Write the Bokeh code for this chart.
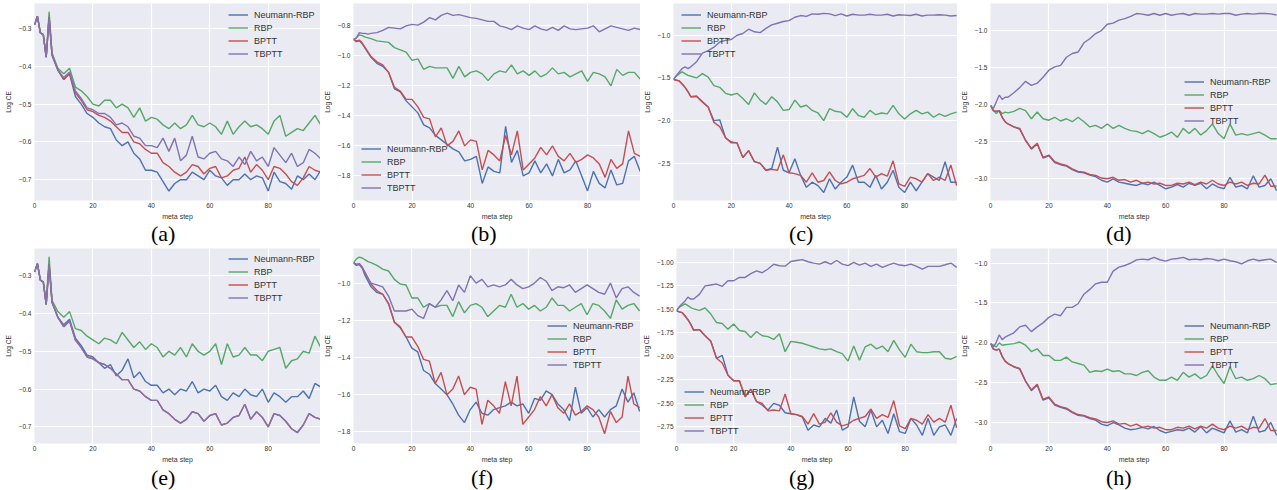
from bokeh.plotting import figure
from bokeh.models import Range1d, FixedTicker, CustomJSTickFormatter, Legend, LegendItem, Div
from bokeh.layouts import column, row
from bokeh.embed import file_html
from bokeh.resources import INLINE

STEPS = [0, 1, 2, 3, 4, 5, 6] + list(range(8, 100, 2))
NAMES = ["Neumann-RBP", "RBP", "BPTT", "TBPTT"]
COLORS = ["#4C72B0", "#55A868", "#C44E52", "#8172B2"]
XTICKS = [0, 20, 40, 60, 80]

# ---------- panel (a) / (e) ----------
N_a = [-0.29, -0.268, -0.312, -0.316, -0.376, -0.27, -0.37,
       -0.41, -0.435, -0.42, -0.48, -0.50, -0.525, -0.535, -0.55, -0.56, -0.565,
       -0.595, -0.61, -0.60, -0.63, -0.645, -0.675, -0.675, -0.68, -0.705, -0.73,
       -0.71, -0.70, -0.70, -0.68, -0.69, -0.70, -0.675, -0.69, -0.695, -0.715,
       -0.70, -0.70, -0.685, -0.70, -0.69, -0.695, -0.73, -0.68, -0.705, -0.71,
       -0.725, -0.69, -0.70, -0.685, -0.70, -0.675]
R_a = [-0.29, -0.268, -0.312, -0.316, -0.376, -0.256, -0.365,
       -0.405, -0.42, -0.405, -0.455, -0.465, -0.48, -0.50, -0.505, -0.49, -0.49,
       -0.51, -0.50, -0.51, -0.535, -0.51, -0.545, -0.535, -0.54, -0.555, -0.565,
       -0.55, -0.565, -0.555, -0.53, -0.555, -0.56, -0.55, -0.56, -0.58, -0.545,
       -0.58, -0.56, -0.545, -0.56, -0.555, -0.565, -0.58, -0.545, -0.53, -0.585,
       -0.575, -0.565, -0.57, -0.55, -0.53, -0.555]
B_a = [-0.29, -0.268, -0.312, -0.316, -0.376, -0.27, -0.37,
       -0.41, -0.435, -0.42, -0.47, -0.49, -0.515, -0.52, -0.53, -0.535, -0.545,
       -0.56, -0.575, -0.575, -0.60, -0.605, -0.62, -0.63, -0.63, -0.655, -0.665,
       -0.68, -0.69, -0.68, -0.66, -0.665, -0.685, -0.67, -0.665, -0.695, -0.69,
       -0.675, -0.67, -0.64, -0.68, -0.66, -0.675, -0.70, -0.665, -0.67, -0.685,
       -0.705, -0.715, -0.695, -0.665, -0.675, -0.68]
T_a = [-0.29, -0.268, -0.312, -0.316, -0.376, -0.27, -0.37,
       -0.41, -0.43, -0.415, -0.465, -0.485, -0.51, -0.515, -0.525, -0.525, -0.535,
       -0.555, -0.55, -0.56, -0.585, -0.59, -0.61, -0.61, -0.615, -0.59, -0.625,
       -0.59, -0.65, -0.635, -0.585, -0.64, -0.645, -0.63, -0.625, -0.645, -0.65,
       -0.665, -0.64, -0.66, -0.625, -0.65, -0.64, -0.665, -0.615, -0.635, -0.655,
       -0.63, -0.665, -0.655, -0.62, -0.63, -0.645]
N_e = [-0.29, -0.268, -0.312, -0.316, -0.376, -0.27, -0.37,
       -0.41, -0.43, -0.415, -0.465, -0.485, -0.51, -0.515, -0.53, -0.545, -0.535,
       -0.565, -0.55, -0.52, -0.57, -0.555, -0.58, -0.59, -0.59, -0.61, -0.60,
       -0.615, -0.60, -0.605, -0.58, -0.61, -0.60, -0.605, -0.59, -0.62, -0.63,
       -0.61, -0.62, -0.60, -0.615, -0.62, -0.60, -0.635, -0.61, -0.62, -0.635,
       -0.62, -0.62, -0.605, -0.625, -0.585, -0.595]
R_e = [-0.29, -0.268, -0.312, -0.316, -0.376, -0.25, -0.365,
       -0.395, -0.41, -0.395, -0.44, -0.445, -0.46, -0.47, -0.48, -0.465, -0.47,
       -0.48, -0.45, -0.47, -0.49, -0.475, -0.495, -0.48, -0.49, -0.515, -0.50,
       -0.51, -0.49, -0.515, -0.48, -0.50, -0.51, -0.50, -0.48, -0.535, -0.48,
       -0.515, -0.51, -0.49, -0.51, -0.51, -0.525, -0.50, -0.495, -0.49, -0.545,
       -0.525, -0.52, -0.50, -0.505, -0.46, -0.49]

# ---------- panel (b) / (f) ----------
N_b = [-0.89, -0.905, -0.90, -0.92, -0.95, -0.98, -1.01,
       -1.05, -1.07, -1.11, -1.22, -1.24, -1.30, -1.34, -1.38, -1.46, -1.48,
       -1.53, -1.56, -1.59, -1.62, -1.64, -1.70, -1.69, -1.67, -1.85, -1.74,
       -1.77, -1.78, -1.47, -1.71, -1.63, -1.80, -1.78, -1.70, -1.78, -1.72,
       -1.80, -1.69, -1.78, -1.76, -1.70, -1.80, -1.90, -1.77, -1.85, -1.88,
       -1.76, -1.86, -1.85, -1.70, -1.67, -1.77]
R_b = [-0.89, -0.88, -0.86, -0.865, -0.875, -0.88, -0.885,
       -0.90, -0.905, -0.91, -0.945, -0.96, -0.975, -1.03, -1.02, -1.09, -1.07,
       -1.08, -1.08, -1.08, -1.15, -1.07, -1.14, -1.11, -1.10, -1.12, -1.165,
       -1.12, -1.10, -1.11, -1.06, -1.12, -1.10, -1.13, -1.10, -1.14, -1.12,
       -1.08, -1.12, -1.11, -1.14, -1.12, -1.10, -1.17, -1.11, -1.12, -1.14,
       -1.20, -1.09, -1.13, -1.11, -1.11, -1.155]
B_b = [-0.89, -0.90, -0.895, -0.915, -0.945, -0.975, -1.005,
       -1.04, -1.06, -1.11, -1.21, -1.235, -1.29, -1.29, -1.34, -1.41, -1.42,
       -1.54, -1.48, -1.60, -1.57, -1.50, -1.60, -1.56, -1.57, -1.76, -1.63,
       -1.66, -1.70, -1.53, -1.66, -1.50, -1.76, -1.72, -1.68, -1.61, -1.66,
       -1.60, -1.67, -1.70, -1.65, -1.71, -1.69, -1.66, -1.68, -1.72, -1.81,
       -1.69, -1.75, -1.72, -1.50, -1.65, -1.67]
T_b = [-0.89, -0.88, -0.845, -0.85, -0.85, -0.855, -0.85,
       -0.845, -0.83, -0.81, -0.815, -0.82, -0.80, -0.79, -0.795, -0.775, -0.745,
       -0.76, -0.73, -0.715, -0.73, -0.725, -0.735, -0.745, -0.75, -0.76, -0.77,
       -0.77, -0.80, -0.81, -0.825, -0.80, -0.815, -0.825, -0.80, -0.82, -0.83,
       -0.81, -0.83, -0.80, -0.82, -0.825, -0.82, -0.815, -0.80, -0.84, -0.82,
       -0.80, -0.81, -0.82, -0.83, -0.815, -0.825]
N_f = [-0.89, -0.905, -0.90, -0.92, -0.96, -0.99, -1.02,
       -1.05, -1.06, -1.11, -1.21, -1.24, -1.29, -1.35, -1.37, -1.47, -1.49,
       -1.54, -1.57, -1.60, -1.65, -1.71, -1.75, -1.68, -1.64, -1.70, -1.71,
       -1.68, -1.67, -1.66, -1.64, -1.66, -1.65, -1.70, -1.62, -1.63, -1.58,
       -1.60, -1.65, -1.68, -1.74, -1.56, -1.70, -1.67, -1.72, -1.68, -1.72,
       -1.68, -1.66, -1.57, -1.64, -1.59, -1.69]
R_f = [-0.89, -0.87, -0.86, -0.865, -0.875, -0.885, -0.89,
       -0.905, -0.925, -0.935, -0.98, -1.005, -1.01, -1.08, -1.08, -1.13, -1.11,
       -1.13, -1.12, -1.12, -1.18, -1.10, -1.16, -1.12, -1.11, -1.13, -1.18,
       -1.15, -1.12, -1.13, -1.06, -1.13, -1.11, -1.14, -1.12, -1.15, -1.13,
       -1.08, -1.12, -1.12, -1.15, -1.13, -1.11, -1.17, -1.11, -1.12, -1.15,
       -1.19, -1.09, -1.14, -1.12, -1.11, -1.15]
T_f = [-0.89, -0.90, -0.895, -0.915, -0.945, -0.975, -1.0,
       -1.01, -1.02, -1.07, -1.15, -1.15, -1.15, -1.14, -1.175, -1.19, -1.11,
       -1.13, -1.09, -1.04, -1.095, -1.01, -1.05, -0.96, -1.0, -0.98, -1.02,
       -1.01, -1.02, -1.01, -0.98, -1.01, -1.03, -1.02, -1.0, -0.97, -0.99,
       -1.04, -1.02, -1.025, -1.01, -1.05, -1.03, -1.01, -1.03, -1.05, -1.06,
       -1.0, -1.08, -1.03, -1.02, -1.05, -1.07]

# ---------- panel (c) / (g) ----------
N_c = [-1.516, -1.527, -1.535, -1.57, -1.61, -1.66, -1.72,
       -1.715, -1.78, -1.84, -2.0, -1.99, -2.20, -2.25, -2.26, -2.43, -2.35,
       -2.48, -2.50, -2.58, -2.56, -2.31, -2.58, -2.61, -2.445, -2.64, -2.78,
       -2.72, -2.76, -2.84, -2.68, -2.80, -2.72, -2.66, -2.52, -2.72, -2.72,
       -2.78, -2.64, -2.80, -2.72, -2.58, -2.78, -2.84, -2.72, -2.82, -2.72,
       -2.62, -2.66, -2.70, -2.48, -2.72, -2.72]
R_c = [-1.516, -1.48, -1.45, -1.43, -1.45, -1.47, -1.48,
       -1.50, -1.45, -1.49, -1.59, -1.61, -1.68, -1.70, -1.68, -1.74, -1.81,
       -1.675, -1.76, -1.81, -1.72, -1.78, -1.88, -1.87, -1.76, -1.84, -1.82,
       -1.88, -1.91, -2.00, -1.86, -1.89, -1.90, -1.96, -1.86, -1.94, -1.96,
       -1.88, -1.93, -1.91, -1.92, -1.82, -1.92, -1.98, -1.92, -1.88, -1.92,
       -1.90, -1.96, -1.92, -1.95, -1.92, -1.90]
B_c = [-1.516, -1.527, -1.535, -1.57, -1.61, -1.66, -1.72,
       -1.715, -1.78, -1.84, -2.02, -2.07, -2.20, -2.26, -2.26, -2.43, -2.35,
       -2.48, -2.50, -2.58, -2.57, -2.58, -2.40, -2.61, -2.62, -2.64, -2.72,
       -2.61, -2.72, -2.70, -2.60, -2.70, -2.74, -2.72, -2.68, -2.66, -2.64,
       -2.56, -2.66, -2.62, -2.65, -2.47, -2.74, -2.77, -2.66, -2.68, -2.72,
       -2.62, -2.70, -2.66, -2.70, -2.52, -2.76]
T_c = [-1.516, -1.47, -1.43, -1.39, -1.37, -1.39, -1.37,
       -1.31, -1.21, -1.18, -1.14, -1.08, -1.06, -1.05, -1.0, -0.98, -0.93,
       -0.96, -0.97, -0.92, -0.88, -0.86, -0.84, -0.83, -0.79, -0.77, -0.78,
       -0.75, -0.755, -0.745, -0.75, -0.77, -0.75, -0.775, -0.755, -0.765, -0.765,
       -0.755, -0.765, -0.765, -0.755, -0.775, -0.76, -0.765, -0.77, -0.755, -0.775,
       -0.765, -0.765, -0.76, -0.765, -0.775, -0.77]
N_g = [-1.513, -1.527, -1.535, -1.57, -1.61, -1.66, -1.72,
       -1.715, -1.78, -1.84, -2.02, -1.99, -2.20, -2.26, -2.26, -2.43, -2.35,
       -2.48, -2.52, -2.57, -2.50, -2.52, -2.60, -2.61, -2.62, -2.645, -2.785,
       -2.73, -2.75, -2.66, -2.71, -2.57, -2.785, -2.75, -2.43, -2.69, -2.75,
       -2.57, -2.75, -2.68, -2.82, -2.61, -2.80, -2.82, -2.66, -2.73, -2.84,
       -2.66, -2.84, -2.75, -2.73, -2.84, -2.66]
R_g = [-1.513, -1.477, -1.46, -1.44, -1.46, -1.48, -1.495,
       -1.51, -1.485, -1.55, -1.64, -1.65, -1.71, -1.655, -1.725, -1.735, -1.80,
       -1.735, -1.78, -1.79, -1.82, -1.76, -1.95, -1.84, -1.85, -1.86, -1.88,
       -1.90, -1.92, -1.93, -1.92, -1.95, -1.97, -2.05, -1.89, -2.04, -1.90,
       -1.87, -1.92, -1.89, -1.95, -1.83, -1.93, -2.01, -1.87, -1.95, -1.96,
       -1.96, -1.95, -1.95, -2.02, -2.03, -2.0]
T_g = [-1.513, -1.47, -1.44, -1.41, -1.37, -1.39, -1.39,
       -1.34, -1.25, -1.24, -1.23, -1.255, -1.195, -1.195, -1.16, -1.16, -1.12,
       -1.09, -1.11, -1.07, -1.02, -1.035, -1.04, -0.99, -0.98, -0.97, -0.993,
       -1.007, -1.018, -0.993, -1.018, -0.98, -1.018, -1.035, -1.0, -1.028, -1.007,
       -1.042, -1.018, -1.053, -1.028, -1.007, -1.028, -1.035, -1.018, -1.042, -1.071,
       -1.042, -1.042, -1.042, -1.025, -1.007, -1.053]

# ---------- panel (d) / (h) ----------
N_d = [-2.01, -2.08, -2.09, -2.08, -2.17, -2.23, -2.26,
       -2.30, -2.33, -2.48, -2.60, -2.53, -2.72, -2.69, -2.78, -2.81, -2.83,
       -2.875, -2.91, -2.92, -2.95, -2.97, -3.02, -3.045, -3.0, -3.045, -3.06,
       -3.077, -3.09, -3.06, -3.08, -3.045, -3.09, -3.135, -3.113, -3.077, -3.113,
       -3.06, -3.09, -3.06, -3.135, -3.07, -3.113, -3.135, -2.98, -3.113, -3.09,
       -3.135, -2.96, -3.113, -3.09, -3.0, -3.16]
R_d = [-2.01, -2.08, -2.12, -2.08, -2.12, -2.10, -2.11,
       -2.09, -2.05, -2.08, -2.19, -2.10, -2.19, -2.21, -2.17, -2.22, -2.19,
       -2.23, -2.17, -2.23, -2.30, -2.28, -2.32, -2.26, -2.32, -2.28, -2.32,
       -2.35, -2.36, -2.39, -2.35, -2.39, -2.44, -2.41, -2.37, -2.44, -2.32,
       -2.39, -2.32, -2.41, -2.35, -2.26, -2.39, -2.46, -2.26, -2.41, -2.39,
       -2.41, -2.39, -2.37, -2.41, -2.46, -2.46]
B_d = [-2.01, -2.08, -2.09, -2.08, -2.17, -2.23, -2.26,
       -2.30, -2.32, -2.48, -2.59, -2.52, -2.71, -2.68, -2.77, -2.80, -2.82,
       -2.865, -2.90, -2.91, -2.94, -2.955, -2.99, -3.0, -2.98, -3.02, -3.01,
       -3.045, -3.02, -3.06, -3.045, -3.07, -3.06, -3.09, -3.09, -3.06, -3.07,
       -3.045, -3.08, -3.045, -3.07, -3.02, -3.07, -3.09, -3.045, -3.07, -3.045,
       -3.09, -3.06, -3.07, -2.95, -3.10, -3.10]
T_d = [-2.01, -2.05, -1.96, -1.87, -1.93, -1.90, -1.90,
       -1.84, -1.77, -1.685, -1.74, -1.71, -1.63, -1.535, -1.49, -1.47, -1.36,
       -1.31, -1.29, -1.165, -1.11, -1.04, -1.0, -0.915, -0.90, -0.86, -0.84,
       -0.81, -0.77, -0.779, -0.793, -0.77, -0.793, -0.77, -0.793, -0.779, -0.77,
       -0.793, -0.77, -0.779, -0.779, -0.77, -0.779, -0.77, -0.77, -0.793, -0.779,
       -0.77, -0.779, -0.77, -0.77, -0.775, -0.79]
N_h = [-2.01, -2.08, -2.09, -2.08, -2.17, -2.23, -2.26,
       -2.30, -2.33, -2.48, -2.60, -2.53, -2.72, -2.69, -2.78, -2.81, -2.83,
       -2.875, -2.91, -2.92, -2.95, -2.97, -3.02, -3.04, -3.0, -3.03, -3.07,
       -3.09, -3.08, -3.06, -3.08, -3.05, -3.10, -3.13, -3.11, -3.09, -3.10,
       -3.07, -3.12, -3.05, -3.13, -3.07, -3.10, -3.13, -2.98, -3.12, -3.09,
       -3.13, -2.92, -3.12, -3.10, -3.0, -3.16]
R_h = [-2.01, -2.03, -2.05, -2.0, -2.03, -2.025, -2.02,
       -2.01, -1.99, -2.03, -2.11, -2.075, -2.16, -2.16, -2.22, -2.22, -2.18,
       -2.24, -2.26, -2.28, -2.37, -2.35, -2.36, -2.33, -2.36, -2.35, -2.39,
       -2.39, -2.41, -2.37, -2.35, -2.43, -2.47, -2.47, -2.43, -2.47, -2.37,
       -2.43, -2.39, -2.45, -2.41, -2.29, -2.41, -2.51, -2.30, -2.45, -2.43,
       -2.47, -2.45, -2.41, -2.45, -2.525, -2.51]
T_h = [-2.01, -2.05, -1.99, -1.90, -1.96, -1.93, -1.91,
       -1.875, -1.80, -1.78, -1.86, -1.80, -1.75, -1.68, -1.64, -1.66, -1.555,
       -1.555, -1.51, -1.39, -1.33, -1.26, -1.24, -1.24, -1.10, -1.05, -1.03,
       -1.0, -0.96, -0.95, -0.958, -0.929, -0.958, -0.975, -0.95, -0.942, -0.929,
       -0.958, -0.95, -0.958, -0.942, -0.95, -0.971, -0.95, -0.971, -0.983, -1.01,
       -0.971, -0.95, -0.971, -0.958, -0.95, -0.99]

YT_A = [-0.7, -0.6, -0.5, -0.4, -0.3]
YT_B = [-1.8, -1.6, -1.4, -1.2, -1.0, -0.8]
YT_C = [-2.5, -2.0, -1.5, -1.0]
YT_D = [-3.0, -2.5, -2.0, -1.5, -1.0]
YT_G = [-2.75, -2.5, -2.25, -2.0, -1.75, -1.5, -1.25, -1.0]

PANELS = [
    dict(tag="(a)", data=[N_a, R_a, B_a, T_a], y=(-0.755, -0.234), yt=YT_A, dec=1, xend=97.9, w=320, bl=34, leg=(194, 140), ind=151),
    dict(tag="(b)", data=[N_b, R_b, B_b, T_b], y=(-1.964, -0.651), yt=YT_B, dec=1, xend=98.1, w=320, bl=33, leg=(8, 6), ind=151),
    dict(tag="(c)", data=[N_c, R_c, B_c, T_c], y=(-2.934, -0.629), yt=YT_C, dec=1, xend=98.3, w=317, bl=31, leg=(8, 140), ind=149),
    dict(tag="(d)", data=[N_d, R_d, B_d, T_d], y=(-3.293, -0.635), yt=YT_D, dec=1, xend=98.3, w=320, bl=32, leg=(194, 73), ind=149),
    dict(tag="(e)", data=[N_e, R_e, B_a, B_a], y=(-0.744, -0.228), yt=YT_A, dec=1, xend=97.9, w=320, bl=34, leg=(194, 139), ind=151),
    dict(tag="(f)", data=[N_f, R_f, B_b, T_f], y=(-1.8625, -0.814), yt=YT_B[:-1], dec=1, xend=98.3, w=320, bl=33, leg=(194, 72), ind=151),
    dict(tag="(g)", data=[N_g, R_g, B_c, T_g], y=(-2.927, -0.852), yt=YT_G, dec=2, xend=98.3, w=317, bl=34, leg=(8, 6), ind=149),
    dict(tag="(h)", data=[N_h, R_h, B_d, T_h], y=(-3.263, -0.817), yt=YT_D, dec=1, xend=98.3, w=320, bl=32, leg=(194, 72), ind=149),
]

SANS = "Liberation Sans"
TXT = "#333333"


def make(spec, height, top, cap_h):
    p = figure(width=spec["w"], height=height,
               x_range=Range1d(0, spec["xend"]), y_range=Range1d(*spec["y"]),
               output_backend="svg", toolbar_location=None,
               min_border_left=spec["bl"], min_border_right=0,
               min_border_top=top, min_border_bottom=22)
    p.background_fill_color = "#EAEAF2"
    p.border_fill_color = "white"
    p.outline_line_color = None
    p.grid.grid_line_color = "white"
    p.grid.grid_line_width = 1.2
    for ax in (p.xaxis, p.yaxis):
        ax.axis_line_color = None
        ax.major_tick_line_color = None
        ax.minor_tick_line_color = None
        ax.major_tick_out = 0
        ax.major_tick_in = 0
        ax.minor_tick_out = 0
        ax.minor_tick_in = 0
        ax.major_label_text_font = SANS
        ax.major_label_text_font_size = "6.5px"
        ax.major_label_text_color = TXT
        ax.major_label_standoff = 2
        ax.axis_label_text_font = SANS
        ax.axis_label_text_font_style = "normal"
        ax.axis_label_text_color = TXT
        ax.axis_label_standoff = 2
    p.xaxis.axis_label = "meta step"
    p.xaxis.axis_label_text_font_size = "7px"
    p.yaxis.axis_label = "Log CE"
    p.yaxis.axis_label_text_font_size = "6.5px"
    p.yaxis.axis_label_standoff = 4
    p.yaxis.major_label_standoff = 3
    p.xaxis.ticker = FixedTicker(ticks=XTICKS)
    p.yaxis.ticker = FixedTicker(ticks=spec["yt"])
    p.yaxis.formatter = CustomJSTickFormatter(
        args=dict(d=spec["dec"]),
        code="return (tick < 0 ? '\\u2212' : '') + Math.abs(tick).toFixed(d);")
    rends = []
    for ys, c in zip(spec["data"], COLORS):
        rends.append(p.line(STEPS, ys, line_color=c, line_width=1.4))
    items = [LegendItem(label=n, renderers=[r]) for n, r in zip(NAMES, rends)]
    leg = Legend(items=items, location=spec["leg"], background_fill_alpha=0,
                 border_line_alpha=0, label_text_font=SANS, label_text_font_size="9px",
                 label_text_color=TXT, glyph_width=20, glyph_height=13, label_height=13,
                 spacing=0, padding=0, margin=0, label_standoff=6)
    p.add_layout(leg)
    cap = Div(text=spec["tag"], width=spec["w"], height=cap_h, margin=0,
              styles={"text-align": "left", "text-indent": "%dpx" % spec["ind"],
                      "font-family": "'Liberation Serif', serif",
                      "font-size": "22px", "line-height": "%dpx" % cap_h, "color": "black",
                      "white-space": "nowrap"})
    return column(p, cap, spacing=0)


cols1 = [make(s, 222, 3, 23) for s in PANELS[:4]]
cols2 = [make(s, 220, 3, 25) for s in PANELS[4:]]
layout = column(row(*cols1, spacing=0), row(*cols2, spacing=0), spacing=0)

open("out.html", "w").write(file_html(layout, INLINE))
